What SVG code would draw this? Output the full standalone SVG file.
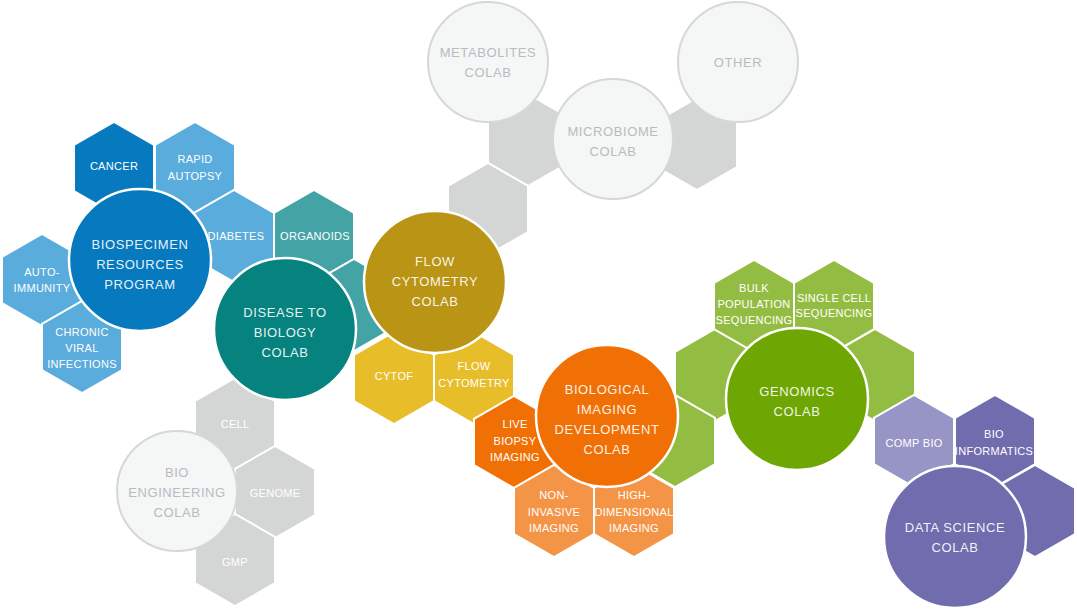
<svg xmlns="http://www.w3.org/2000/svg" xmlns:xlink="http://www.w3.org/1999/xlink" width="1077" height="609" viewBox="0 0 1077 609">
<defs>
<path id="hx" d="M0,-46.19 L40,-23.09 L40,23.09 L0,46.19 L-40,23.09 L-40,-23.09Z"/>
<style>
.hex{stroke:#fff;stroke-width:2}
.cir{stroke:#fff;stroke-width:2.5}
.gcir{fill:#f5f6f6;stroke:#d6d7d7;stroke-width:2}
.blueD{fill:#0779be}.blueL{fill:#5aacdc}
.tealD{fill:#06837f}.tealL{fill:#44a3a5}
.goldD{fill:#b99415}.goldL{fill:#e7bd2a}
.oraD{fill:#f07006}.oraL{fill:#f49446}
.grnD{fill:#6ea603}.grnL{fill:#93bd42}
.purD{fill:#716cae}.purL{fill:#9794c6}
.grey{fill:#d4d5d5}
text{font-family:"Liberation Sans",Arial,sans-serif;text-anchor:middle}
.ht{font-size:11px;letter-spacing:0.3px;fill:#fff}
.ct{font-size:13px;letter-spacing:0.6px;fill:#fff;fill-opacity:0.92}
.gt{font-size:13px;letter-spacing:0.6px;fill:#b8bbc1}
</style>
</defs>
<rect width="1077" height="609" fill="#fff"/>
<g id="connectors"/>

<!-- grey hexes -->
<g id="hex-grey-1"><use href="#hx" x="528" y="140" class="hex grey"/></g>
<g id="hex-grey-2"><use href="#hx" x="488" y="209" class="hex grey"/></g>
<g id="hex-grey-3"><use href="#hx" x="697" y="144" class="hex grey"/></g>

<!-- biospecimen hexes -->
<g id="hex-cancer"><use href="#hx" x="114" y="168" class="hex blueD"/><text class="ht" x="114" y="170">CANCER</text></g>
<g id="hex-rapid-autopsy"><use href="#hx" x="195" y="168" class="hex blueL"/><text class="ht" x="195" y="163">RAPID</text><text class="ht" x="195" y="180">AUTOPSY</text></g>
<g id="hex-diabetes"><use href="#hx" x="234" y="236" class="hex blueL"/><text class="ht" x="236" y="240">DIABETES</text></g>
<g id="hex-autoimmunity"><use href="#hx" x="42" y="280" class="hex blueL"/><text class="ht" x="42" y="276">AUTO-</text><text class="ht" x="42" y="292">IMMUNITY</text></g>
<g id="hex-chronic"><use href="#hx" x="82" y="347" class="hex blueL"/><text class="ht" x="82" y="336">CHRONIC</text><text class="ht" x="82" y="352">VIRAL</text><text class="ht" x="82" y="368">INFECTIONS</text></g>

<!-- disease hexes -->
<g id="hex-organoids"><use href="#hx" x="314" y="236" class="hex tealL"/><text class="ht" x="315" y="240">ORGANOIDS</text></g>
<g id="hex-teal-2"><use href="#hx" x="354" y="305" class="hex tealL"/></g>

<!-- bio engineering hexes -->
<g id="hex-cell"><use href="#hx" x="235" y="424" class="hex grey"/><text class="ht" x="235" y="428">CELL</text></g>
<g id="hex-genome"><use href="#hx" x="275" y="492" class="hex grey"/><text class="ht" x="275" y="497">GENOME</text></g>
<g id="hex-gmp"><use href="#hx" x="235" y="560" class="hex grey"/><text class="ht" x="235" y="566">GMP</text></g>

<!-- flow hexes -->
<g id="hex-cytof"><use href="#hx" x="394" y="378" class="hex goldL"/><text class="ht" x="394" y="380">CYTOF</text></g>
<g id="hex-flow-cytometry"><use href="#hx" x="474" y="378" class="hex goldL"/><text class="ht" x="474" y="370">FLOW</text><text class="ht" x="474" y="387">CYTOMETRY</text></g>

<!-- imaging hexes -->
<g id="hex-live-biopsy"><use href="#hx" x="514" y="442" class="hex oraD"/><text class="ht" x="515" y="428">LIVE</text><text class="ht" x="515" y="445">BIOPSY</text><text class="ht" x="515" y="461">IMAGING</text></g>
<g id="hex-non-invasive"><use href="#hx" x="554" y="511" class="hex oraL"/><text class="ht" x="554" y="499">NON-</text><text class="ht" x="554" y="516">INVASIVE</text><text class="ht" x="554" y="532">IMAGING</text></g>
<g id="hex-high-dim"><use href="#hx" x="634" y="511" class="hex oraL"/><text class="ht" x="634" y="499">HIGH-</text><text class="ht" x="634" y="516">DIMENSIONAL</text><text class="ht" x="634" y="532">IMAGING</text></g>

<!-- genomics hexes -->
<g id="hex-green-1"><use href="#hx" x="715" y="375" class="hex grnL"/></g>
<g id="hex-green-2"><use href="#hx" x="675" y="441" class="hex grnL"/></g>
<g id="hex-green-3"><use href="#hx" x="875" y="375" class="hex grnL"/></g>
<g id="hex-bulk"><use href="#hx" x="754" y="306" class="hex grnL"/><text class="ht" x="754" y="292">BULK</text><text class="ht" x="754" y="308">POPULATION</text><text class="ht" x="754" y="324">SEQUENCING</text></g>
<g id="hex-single-cell"><use href="#hx" x="834" y="306" class="hex grnL"/><text class="ht" x="834" y="302">SINGLE CELL</text><text class="ht" x="834" y="317">SEQUENCING</text></g>

<!-- data science hexes -->
<g id="hex-comp-bio"><use href="#hx" x="914" y="441" class="hex purL"/><text class="ht" x="914" y="447">COMP BIO</text></g>
<g id="hex-bioinformatics"><use href="#hx" x="995" y="441" class="hex purD"/><text class="ht" x="994" y="438">BIO</text><text class="ht" x="994" y="455">INFORMATICS</text></g>
<g id="hex-purple-3"><use href="#hx" x="1035" y="511" class="hex purD"/></g>

<!-- circles -->
<g id="metabolites-colab"><circle cx="488" cy="62" r="60" class="gcir"/><text class="gt" x="488" y="57">METABOLITES</text><text class="gt" x="488" y="77">COLAB</text></g>
<g id="microbiome-colab"><circle cx="613" cy="139" r="60" class="gcir"/><text class="gt" x="613" y="136">MICROBIOME</text><text class="gt" x="613" y="156">COLAB</text></g>
<g id="other"><circle cx="738" cy="62" r="60" class="gcir"/><text class="gt" x="738" y="67">OTHER</text></g>
<g id="bio-engineering-colab"><circle cx="177" cy="491" r="60" class="gcir"/><text class="gt" x="177" y="477">BIO</text><text class="gt" x="177" y="497">ENGINEERING</text><text class="gt" x="177" y="517">COLAB</text></g>

<g id="biospecimen-resources-program"><circle cx="140" cy="260" r="71" class="cir blueD"/><text class="ct" x="140" y="249">BIOSPECIMEN</text><text class="ct" x="140" y="269">RESOURCES</text><text class="ct" x="140" y="289">PROGRAM</text></g>
<g id="disease-to-biology-colab"><circle cx="285" cy="329" r="71" class="cir tealD"/><text class="ct" x="285" y="317">DISEASE TO</text><text class="ct" x="285" y="337">BIOLOGY</text><text class="ct" x="285" y="357">COLAB</text></g>
<g id="flow-cytometry-colab"><circle cx="435" cy="282" r="71" class="cir goldD"/><text class="ct" x="435" y="266">FLOW</text><text class="ct" x="435" y="286">CYTOMETRY</text><text class="ct" x="435" y="306">COLAB</text></g>
<g id="biological-imaging-development-colab"><circle cx="607" cy="416" r="71" class="cir oraD"/><text class="ct" x="607" y="394">BIOLOGICAL</text><text class="ct" x="607" y="414">IMAGING</text><text class="ct" x="607" y="434">DEVELOPMENT</text><text class="ct" x="607" y="454">COLAB</text></g>
<g id="genomics-colab"><circle cx="797" cy="399" r="71" class="cir grnD"/><text class="ct" x="797" y="396">GENOMICS</text><text class="ct" x="797" y="416">COLAB</text></g>
<g id="data-science-colab"><circle cx="955" cy="537" r="71" class="cir purD"/><text class="ct" x="955" y="532">DATA SCIENCE</text><text class="ct" x="955" y="552">COLAB</text></g>
</svg>
